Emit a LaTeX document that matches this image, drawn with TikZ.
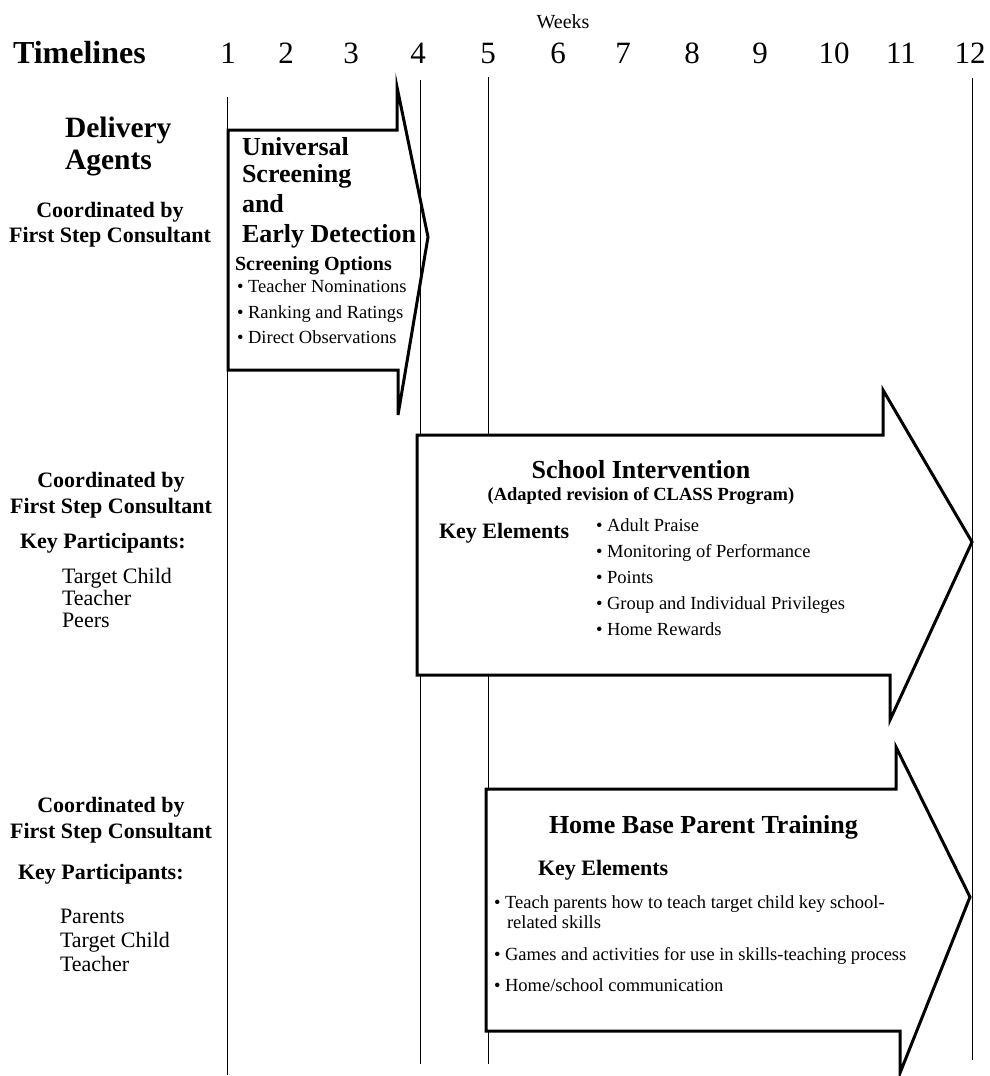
\documentclass[tikz,border=0pt]{standalone}
\usepackage{fontspec}
\setmainfont{Liberation Serif}
\newcommand\myfs[1]{\fontsize{#1}{#1}\selectfont}
\begin{document}
\begin{tikzpicture}[x=1pt,y=-1pt,
  txt/.style={inner sep=0pt,outer sep=0pt},
  hdr/.style={txt,font=\myfs{32}\bfseries},
  num/.style={txt,anchor=base,font=\myfs{31}},
  wk/.style={txt,anchor=base,font=\myfs{20}},
  big/.style={txt,anchor=base west,font=\myfs{29.5}\bfseries},
  lbl/.style={txt,anchor=base,font=\myfs{22}\bfseries},
  kp/.style={txt,anchor=base west,font=\myfs{22}\bfseries},
  who/.style={txt,anchor=base west,font=\myfs{22}},
  ttl/.style={txt,font=\myfs{26}\bfseries},
  sub/.style={txt,font=\myfs{20}\bfseries},
  item/.style={txt,anchor=base west,font=\myfs{18.5}},
  gridline/.style={line width=1pt},
  bigarrow/.style={line width=3pt,line join=miter}
]
\useasboundingbox (0,0) rectangle (990,1076);

% header
\node[hdr,anchor=base west] (tl) at (13,63) {Timelines};
\node[wk] (weeks) at (563,28) {Weeks};
\foreach \n/\x in {1/228,2/286,3/351,4/418,5/488,6/558,7/623,8/692,9/760,10/834,11/901,12/970}{
  \node[num] (n\n) at (\x,63) {\n};
}

% week lines
\coordinate (w1t) at (227,97);  \coordinate (w1b) at (227,1075);
\coordinate (w4t) at (420,80);  \coordinate (w4b) at (420,1064);
\coordinate (w5t) at (488,77);  \coordinate (w5b) at (488,1064);
\coordinate (w12t) at (972,78); \coordinate (w12b) at (972,1060);
\draw[gridline] (w1t) -- (w1b);
\draw[gridline] (w4t) -- (w4b);
\draw[gridline] (w5t) -- (w5b);
\draw[gridline] (w12t) -- (w12b);

% arrow 1
\draw[bigarrow] (228,130) -- (397,130) -- (397,87) -- (428,237) -- (398,415) -- (398,370) -- (228,370) -- cycle;
% arrow 2
\draw[bigarrow,fill=white] (417,435) -- (883,435) -- (883,390) -- (972,542) -- (890,720) -- (890,675) -- (417,675) -- cycle;
% arrow 3
\draw[bigarrow,fill=white] (486,789) -- (896,789) -- (896,747) -- (970,897) -- (900,1073) -- (900,1031) -- (486,1031) -- cycle;

% left column, block 1
\node[big] (da1) at (65,137) {Delivery};
\node[big] (da2) at (65,169) {Agents};
\node[lbl] (c1a) at (110,217) {Coordinated by};
\node[lbl] (c1b) at (110,242) {First Step Consultant};

% block 2
\node[lbl] (c2a) at (111,487) {Coordinated by};
\node[lbl] (c2b) at (111,513) {First Step Consultant};
\node[kp] (k2) at (20,548) {Key Participants:};
\node[who] (p2a) at (62,583) {Target Child};
\node[who] (p2b) at (62,605) {Teacher};
\node[who] (p2c) at (62,627) {Peers};

% block 3
\node[lbl] (c3a) at (111,812) {Coordinated by};
\node[lbl] (c3b) at (111,838) {First Step Consultant};
\node[kp] (k3) at (18,879) {Key Participants:};
\node[who] (p3a) at (60,923) {Parents};
\node[who] (p3b) at (60,947) {Target Child};
\node[who] (p3c) at (60,971) {Teacher};

% arrow 1 text
\node[ttl,anchor=base west] (u1) at (242,155) {Universal};
\node[ttl,anchor=base west] (u2) at (242,182) {Screening};
\node[ttl,anchor=base west] (u3) at (242,212) {and};
\node[ttl,anchor=base west] (u4) at (242,242) {Early Detection};
\node[sub,anchor=base west] (so) at (235,270) {Screening Options};
\node[item] (s1) at (237,292) {\textbullet\ Teacher Nominations};
\node[item] (s2) at (237,318) {\textbullet\ Ranking and Ratings};
\node[item] (s3) at (237,343) {\textbullet\ Direct Observations};

% arrow 2 text
\node[ttl,anchor=base] (si) at (641,478) {School Intervention};
\node[txt,anchor=base,font=\myfs{18.5}\bfseries] (sia) at (641,500) {(Adapted revision of CLASS Program)};
\node[txt,anchor=base west,font=\myfs{22}\bfseries] (ke2) at (439,538) {Key Elements};
\node[item] (e1) at (596,531) {\textbullet\ Adult Praise};
\node[item] (e2) at (596,557) {\textbullet\ Monitoring of Performance};
\node[item] (e3) at (596,583) {\textbullet\ Points};
\node[item] (e4) at (596,609) {\textbullet\ Group and Individual Privileges};
\node[item] (e5) at (596,635) {\textbullet\ Home Rewards};

% arrow 3 text
\node[ttl,anchor=base west] (hb) at (549,833) {Home Base Parent Training};
\node[txt,anchor=base west,font=\myfs{22}\bfseries] (ke3) at (538,875) {Key Elements};
\node[item] (h1) at (494,908) {\textbullet\ Teach parents how to teach target child key school-};
\node[item] (h1b) at (507,928) {related skills};
\node[item] (h2) at (494,960) {\textbullet\ Games and activities for use in skills-teaching process};
\node[item] (h3) at (494,991) {\textbullet\ Home/school communication};
\end{tikzpicture}
\end{document}
